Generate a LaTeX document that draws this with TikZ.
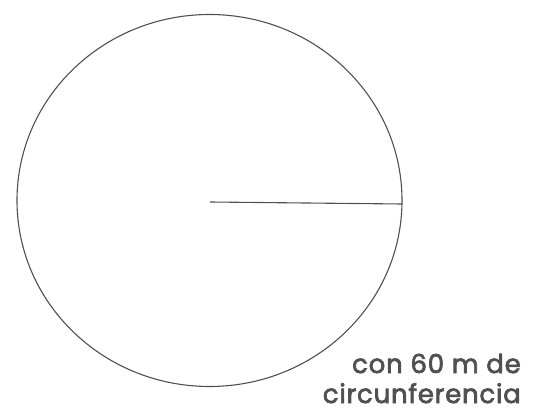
\documentclass[tikz,border=0pt]{standalone}
\usepackage{fontspec}
\newfontfamily\rotfont{Poppins}[LetterSpace=3, FakeBold=2.6]
\usepackage{xcolor}
\usetikzlibrary{positioning}
\definecolor{tinta}{HTML}{505050}

\begin{document}
\begin{tikzpicture}[
  x=1pt, y=-1pt,
  trazo/.style={draw=tinta, line width=1.1pt},
  rotulo/.style={align=right, text=tinta, inner sep=0pt,
    font=\fontsize{26}{30}\rotfont},
]
\useasboundingbox (0,0) rectangle (537,411);
\coordinate (centro) at (210,202);
\coordinate (borde) at (402,204);
\draw[trazo] (209.5,200.5) ellipse [x radius=192.5, y radius=186];
\draw[trazo] (centro) -- (borde);
\node[rotulo, anchor=base east] (linea1) at (521,373) {con 60 m de};
\node[rotulo, anchor=base east] (linea2) at (521,403) {circunferencia};
\end{tikzpicture}
\end{document}
